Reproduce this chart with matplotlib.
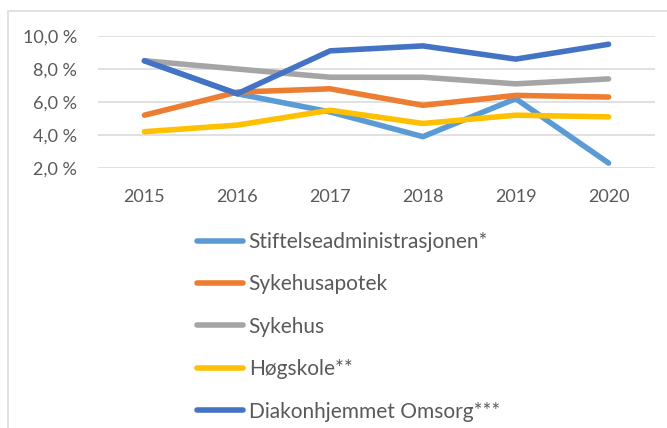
import matplotlib
matplotlib.use("Agg")
import matplotlib.pyplot as plt
from matplotlib.ticker import FuncFormatter, FixedLocator
from matplotlib.lines import Line2D

years = ["2015", "2016", "2017", "2018", "2019", "2020"]
stiftelse = [8.5, 6.5, 5.4, 3.9, 6.2, 2.3]
sykehusapotek = [5.2, 6.6, 6.8, 5.8, 6.4, 6.3]
sykehus = [8.5, 8.0, 7.5, 7.5, 7.1, 7.4]
hogskole = [4.2, 4.6, 5.5, 4.7, 5.2, 5.1]
diakon = [8.5, 6.5, 9.1, 9.4, 8.6, 9.5]

labels = ["Stiftelseadministrasjonen*", "Sykehusapotek", "Sykehus",
          "Høgskole**", "Diakonhjemmet Omsorg***"]
series = [stiftelse, sykehusapotek, sykehus, hogskole, diakon]
colors = ["#5B9BD5", "#ED7D31", "#A5A5A5", "#FFC000", "#4472C4"]
yticks = [2, 4, 6, 8, 10]

plt.rcParams['font.family'] = ['Lato', 'DejaVu Sans']
txt = "#595959"

fig = plt.figure(figsize=(6.67, 4.28), dpi=100)
# chart border
fig.add_artist(plt.Rectangle((7.5/667, -0.1), 1.0, 1 - 10.5/428 + 0.1,
                             transform=fig.transFigure, fill=False,
                             edgecolor="#D9D9D9", linewidth=1.1))
ax = fig.add_axes([98/667, 1-168/428, (655-98)/667, (168-36)/428])
x = list(range(len(years)))
for vals, c, lab in zip(series, colors, labels):
    ax.plot(x, vals, color=c, lw=4.0, solid_capstyle='round',
            solid_joinstyle='round', label=lab)

ax.set_xlim(-0.5, len(years) - 0.5)
ax.set_ylim(2, 10)
ax.yaxis.set_major_locator(FixedLocator(yticks))
ax.yaxis.set_major_formatter(FuncFormatter(lambda v, p: f"{v:.1f}".replace(".", ",") + " %"))
ax.set_xticks(x)
ax.set_xticklabels(years)
ax.grid(axis='y', color="#D9D9D9", lw=1.1)
ax.set_axisbelow(True)
for s in ax.spines.values():
    s.set_visible(False)
ax.tick_params(axis='both', length=0, labelsize=13, colors=txt)
ax.tick_params(axis='x', pad=15)
ax.tick_params(axis='y', pad=15)

handles = [Line2D([], [], color=c, lw=4.0, solid_capstyle='round') for c in colors]
fig.legend(handles, labels, loc='upper left', bbox_to_anchor=(197/667, 1-232/428),
           frameon=False, fontsize=15, labelcolor=txt, handlelength=2.2,
           handletextpad=0.28, labelspacing=1.075, borderpad=0, borderaxespad=0)

fig.savefig("out.png", dpi=100)
